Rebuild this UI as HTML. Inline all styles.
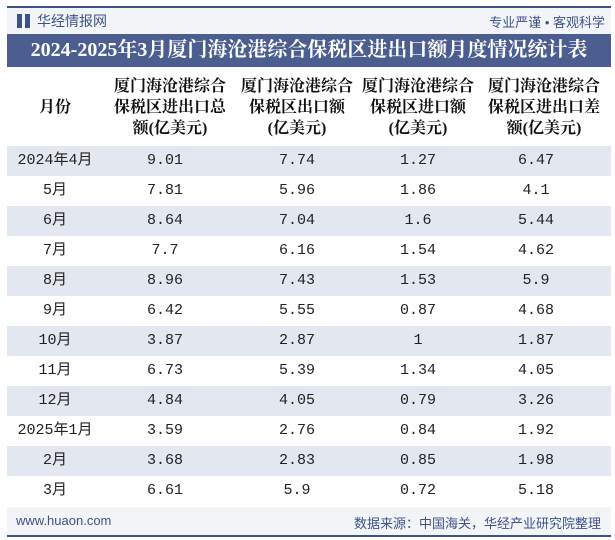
<!DOCTYPE html>
<html><head><meta charset="utf-8">
<style>
*{margin:0;padding:0;box-sizing:border-box}
body{width:615px;height:540px;background:#fff;position:relative;overflow:hidden;font-family:"Liberation Sans","Noto Sans CJK SC",sans-serif}
.abs{position:absolute}
.topline{left:7px;top:6px;width:604px;height:2px;background:#3f5288}
.hdr{left:7px;top:8px;width:604px;height:26px;background:#f2f4f8}
.title{left:7px;top:34px;width:604px;height:33px;background:#4b5e8f;color:#fff;font-family:"Liberation Serif","Noto Serif CJK SC",serif;font-weight:bold;font-size:20px;text-align:center;line-height:33px}
.th{top:76px;font-size:16px;line-height:21px;text-align:center;color:#111;font-family:"Liberation Serif","Noto Serif CJK SC",serif;font-weight:bold}
.row{left:7px;width:604px;height:30px}
.cell{position:absolute;top:0;height:30px;line-height:30px;font-size:15px;text-align:center;color:#222;font-family:"Liberation Mono","Noto Sans CJK SC",monospace}
.foot{left:7px;top:507px;width:604px;height:28px;background:#f2f4f8}
.botline{left:7px;top:535px;width:604px;height:2px;background:#3f5288}
</style></head><body>
<div class="abs topline"></div>
<div class="abs hdr">
  <div class="abs" style="left:10px;top:6px;width:14px;height:14px">
    <div class="abs" style="left:0;top:0;width:5px;height:14px;background:#3f5288"></div>
    <div class="abs" style="left:8px;top:0;width:5px;height:14px;background:#3f5288"></div>
  </div>
  <div class="abs" style="left:30px;top:3px;font-size:14px;color:#3f5288">华经情报网</div>
  <div class="abs" style="right:6px;top:4px;font-size:13px;color:#3f5288">专业严谨 • 客观科学</div>
</div>
<div class="abs title">2024-2025年3月厦门海沧港综合保税区进出口额月度情况统计表</div>

<div class="abs th" style="left:7px;width:96px;top:97px">月份</div>
<div class="abs th" style="left:108px;width:124px">厦门海沧港综合<br>保税区进出口总<br>额(亿美元)</div>
<div class="abs th" style="left:236px;width:122px">厦门海沧港综合<br>保税区出口额<br>(亿美元)</div>
<div class="abs th" style="left:357px;width:122px">厦门海沧港综合<br>保税区进口额<br>(亿美元)</div>
<div class="abs th" style="left:474px;width:140px">厦门海沧港综合<br>保税区进出口差<br>额(亿美元)</div>

<div id="rows"></div>

<div class="abs foot">
  <div class="abs" style="left:9px;top:6px;font-size:13px;color:#3f5288">www.huaon.com</div>
  <div class="abs" style="right:10px;top:6px;font-size:13px;color:#3f5288">数据来源：中国海关，华经产业研究院整理</div>
</div>
<div class="abs botline"></div>

<script>
const months=["2024年4月","5月","6月","7月","8月","9月","10月","11月","12月","2025年1月","2月","3月"];
const totals=["9.01","7.81","8.64","7.7","8.96","6.42","3.87","6.73","4.84","3.59","3.68","6.61"];
const exportsV=["7.74","5.96","7.04","6.16","7.43","5.55","2.87","5.39","4.05","2.76","2.83","5.9"];
const importsV=["1.27","1.86","1.6","1.54","1.53","0.87","1","1.34","0.79","0.84","0.85","0.72"];
const balances=["6.47","4.1","5.44","4.62","5.9","4.68","1.87","4.05","3.26","1.92","1.98","5.18"];
const colCenters=[55,165,297,418,536];
const wrap=document.getElementById('rows');
months.forEach((m,i)=>{
  const r=document.createElement('div');
  r.className='abs row';
  r.style.top=(146+i*30)+'px';
  r.style.background=i%2===0?'#e3e7f0':'#fff';
  
  
  const vals=[m,totals[i],exportsV[i],importsV[i],balances[i]];
  vals.forEach((v,j)=>{
    const c=document.createElement('div');
    c.className='cell';
    c.style.left=(colCenters[j]-7-60)+'px';
    c.style.width='120px';
    c.textContent=v;
    
    
    r.appendChild(c);
  });
  wrap.appendChild(r);
});
</script>
</body></html>
